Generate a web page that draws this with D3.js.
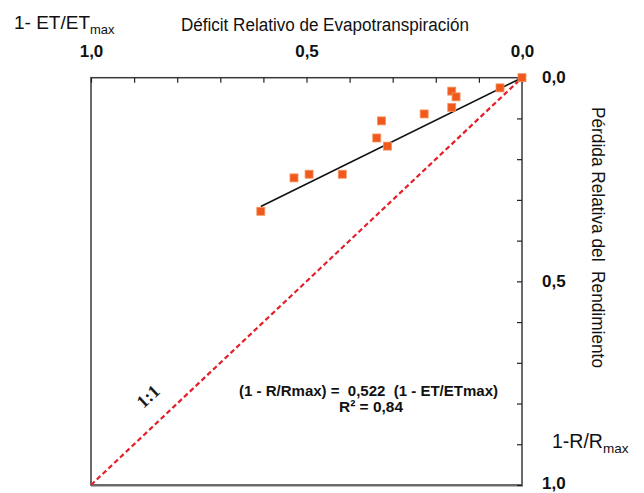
<!DOCTYPE html>
<html>
<head>
<meta charset="utf-8">
<script src="https://cdn.jsdelivr.net/npm/d3@7"></script>
<style>
  html, body { margin: 0; padding: 0; background: #fff; }
  svg { display: block; }
  .narrow { font-family: "Liberation Sans Narrow", "Arial Narrow", "Liberation Sans", sans-serif; }
</style>
</head>
<body>
<svg id="chart" width="644" height="493"></svg>
<script>
// Relative evapotranspiration deficit, 1 - ET/ETmax, per observation
const etDeficit = [0, 0.051, 0.163, 0.153, 0.163, 0.227, 0.326, 0.337, 0.312, 0.417, 0.494, 0.529, 0.606];
// Relative yield loss, 1 - R/Rmax, per observation
const yieldLoss = [0, 0.025, 0.033, 0.047, 0.073, 0.089, 0.106, 0.148, 0.168, 0.237, 0.237, 0.246, 0.328];
// Fitted response factor (through the origin) and its R²
const slope = 0.522;
const rSquared = 0.84;
// Axis ticks
const minorTicks = [0, 0.1, 0.2, 0.3, 0.4, 0.5, 0.6, 0.7, 0.8, 0.9, 1.0];
const xLabelTicks = [1.0, 0.5, 0.0];
const yLabelTicks = [0.0, 0.5, 1.0];

const locale = d3.formatLocale({ decimal: ",", thousands: ".", grouping: [3], currency: ["", ""] });
const fmt1 = locale.format(".1f");
const fmt2 = locale.format(".2f");
const fmt3 = locale.format(".3f");

const svg = d3.select("#chart");
const plotL = 91, plotR = 522, plotT = 77.7, plotB = 485;

const x = d3.scaleLinear().domain([1, 0]).range([plotL, plotR]);
const y = d3.scaleLinear().domain([0, 1]).range([plotT, plotB]);

// Frame of the plotting area
svg.append("rect")
  .attr("x", plotL).attr("y", plotT)
  .attr("width", plotR - plotL).attr("height", plotB - plotT)
  .attr("fill", "none").attr("stroke", "#3a3a3a").attr("stroke-width", 1.5);
svg.append("line")
  .attr("x1", plotL).attr("x2", plotR + 1)
  .attr("y1", plotB + 0.5).attr("y2", plotB + 0.5)
  .attr("stroke", "#6b6b6b").attr("stroke-width", 2);

// Inward tick marks on the top and right edges
const topAxis = svg.append("g")
  .attr("transform", `translate(0,${plotT})`)
  .call(d3.axisTop(x).tickValues(minorTicks).tickSize(-5).tickFormat(""));
const rightAxis = svg.append("g")
  .attr("transform", `translate(${plotR},0)`)
  .call(d3.axisRight(y).tickValues(minorTicks).tickSize(-5).tickFormat(""));
[topAxis, rightAxis].forEach(g => {
  g.select(".domain").remove();
  g.selectAll(".tick line").attr("stroke", "#222").attr("stroke-width", 1.2);
});

// Tick labels
const labelFont = '"Liberation Sans Narrow", "Arial Narrow", "Liberation Sans", sans-serif';
const topLabels = svg.append("g")
  .attr("transform", `translate(0,${plotT})`)
  .call(d3.axisTop(x).tickValues(xLabelTicks).tickSize(0).tickPadding(21).tickFormat(fmt1));
const rightLabels = svg.append("g")
  .attr("transform", `translate(${plotR},0)`)
  .call(d3.axisRight(y).tickValues(yLabelTicks).tickSize(0).tickPadding(20).tickFormat(fmt1));
[topLabels, rightLabels].forEach(g => {
  g.select(".domain").remove();
  g.attr("font-family", null).attr("font-size", null);
  g.selectAll("text")
    .style("font-family", labelFont)
    .style("font-size", "17px").style("font-weight", "bold").attr("fill", "#111");
});
// the bottom label sits just under its tick, the others are centred on theirs
rightLabels.selectAll("text").attr("dy", d => d === 1 ? "0.22em" : "0.3em");

// 1:1 reference line
svg.append("line")
  .attr("x1", x(1)).attr("y1", y(1))
  .attr("x2", x(0)).attr("y2", y(0))
  .attr("stroke", "#e3202a").attr("stroke-width", 2.2)
  .attr("stroke-dasharray", "5,3");

const angle = Math.atan2(y(1) - y(0), x(1) - x(0)) * 180 / Math.PI + 180;
svg.append("text")
  .attr("transform", `translate(${x(0.868)},${y(0.782)}) rotate(${angle})`)
  .attr("text-anchor", "middle").attr("dy", "0.35em")
  .style("font-family", '"Liberation Serif", "DejaVu Serif", serif')
  .style("font-size", "18px").style("font-weight", "bold").attr("fill", "#1a1a1a")
  .text("1:1");

// Fitted line over the observed range
const xMax = d3.max(etDeficit);
svg.append("line")
  .attr("x1", x(0)).attr("y1", y(0))
  .attr("x2", x(xMax)).attr("y2", y(slope * xMax))
  .attr("stroke", "#111").attr("stroke-width", 1.6);

// Observations
svg.append("g").selectAll("rect")
  .data(etDeficit.map((d, i) => ({ d, l: yieldLoss[i] })))
  .join("rect")
  .attr("x", p => x(p.d) - 4).attr("y", p => y(p.l) - 4)
  .attr("width", 8).attr("height", 8)
  .attr("fill", "#f0591d").attr("stroke", "#f6935f").attr("stroke-width", 0.8);

// Fit equation
const eq = svg.append("g").attr("class", "narrow")
  .style("font-size", "15.5px").style("font-weight", "bold").attr("fill", "#111");
eq.append("text").attr("x", 368.5).attr("y", 396).attr("text-anchor", "middle")
  .attr("xml:space", "preserve")
  .attr("textLength", 259).attr("lengthAdjust", "spacingAndGlyphs")
  .text(`(1 - R/Rmax) =  ${fmt3(slope)}  (1 - ET/ETmax)`);
eq.append("text").attr("x", 371).attr("y", 412).attr("text-anchor", "middle")
  .attr("textLength", 64).attr("lengthAdjust", "spacingAndGlyphs")
  .text(`R² = ${fmt2(rSquared)}`);

// Axis titles
svg.append("text").attr("class", "narrow")
  .attr("x", 325).attr("y", 31).attr("text-anchor", "middle")
  .attr("textLength", 288).attr("lengthAdjust", "spacingAndGlyphs")
  .style("font-size", "18px").attr("fill", "#111")
  .text("Déficit Relativo de Evapotranspiración");

const etLabel = svg.append("text").attr("class", "narrow")
  .attr("x", 14).attr("y", 29)
  .style("font-size", "19px").attr("fill", "#111");
etLabel.append("tspan").text("1- ET/ET");
etLabel.append("tspan").attr("dy", 5).style("font-size", "13px").text("max");

const rLabel = svg.append("text").attr("class", "narrow")
  .attr("x", 552).attr("y", 448)
  .style("font-size", "19.5px").attr("fill", "#111");
rLabel.append("tspan").text("1-R/R");
rLabel.append("tspan").attr("dy", 5).style("font-size", "13.5px").text("max");

svg.append("text").attr("class", "narrow")
  .attr("transform", "translate(592,237.5) rotate(90)")
  .attr("text-anchor", "middle")
  .attr("xml:space", "preserve")
  .attr("textLength", 261).attr("lengthAdjust", "spacingAndGlyphs")
  .style("font-size", "18.5px").attr("fill", "#111")
  .text("Pérdida Relativa del  Rendimiento");
</script>
</body>
</html>
